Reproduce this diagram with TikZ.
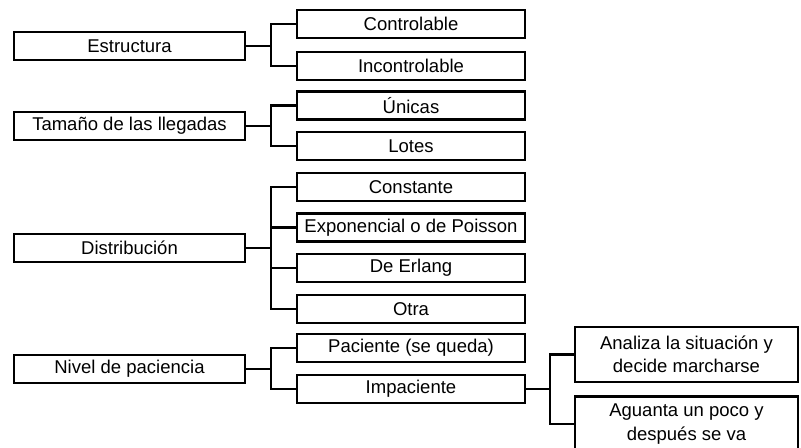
\documentclass[tikz,border=0pt]{standalone}
\usepackage{fontspec}
\setmainfont{Liberation Sans}
\usetikzlibrary{positioning}
\tikzset{
  mainbox/.style={draw=black,line width=1.8pt,minimum width=6.93cm,minimum height=0.84cm,inner sep=0pt,font=\fontsize{15.8}{17}\selectfont},
  subbox/.style={draw=black,line width=1.8pt,minimum width=6.84cm,minimum height=0.84cm,inner sep=0pt,font=\fontsize{15.8}{17}\selectfont},
  leafbox/.style={draw=black,line width=1.8pt,minimum width=6.69cm,minimum height=1.65cm,inner sep=0pt,align=center,font=\fontsize{15.8}{20}\selectfont},
  fork/.style={line width=1.8pt}
}
\begin{document}
\begin{tikzpicture}[x=0.03cm,y=-0.03cm]
\useasboundingbox (0,0) rectangle (801,448);
% Left boxes
\node[mainbox] (est) at (129.5,46) {Estructura};
\node[mainbox] (tam) at (129.5,126) {Tamaño de las llegadas};
\node[mainbox] (dis) at (129.5,248) {Distribución};
\node[mainbox] (niv) at (129.5,369) {Nivel de paciencia};
% Middle boxes
\node[subbox] (ctrl) at (411,24) {Controlable};
\node[subbox] (inc) at (411,66) {Incontrolable};
\node[subbox] (uni) at (411,105.5) {Únicas};
\node[subbox] (lot) at (411,146) {Lotes};
\node[subbox] (con) at (411,187) {Constante};
\node[subbox] (exp) at (411,227.5) {Exponencial o de Poisson};
\node[subbox] (erl) at (411,268) {De Erlang};
\node[subbox] (otr) at (411,309) {Otra};
\node[subbox] (pac) at (411,348) {Paciente (se queda)};
\node[subbox] (imp) at (411,389) {Impaciente};
% Right boxes
\node[leafbox] (ana) at (686.5,354.5) {Analiza la situación y\\decide marcharse};
\node[leafbox] (agu) at (686.5,424) {Aguanta un poco y\\después se va};
% Forks
\draw[fork] (est.east) -- ++(25,0) coordinate (f1);
\draw[fork] (f1) |- (ctrl.west);
\draw[fork] (f1) |- (inc.west);
\draw[fork] (tam.east) -- ++(25,0) coordinate (f2);
\draw[fork] (f2) |- (uni.west);
\draw[fork] (f2) |- (lot.west);
\draw[fork] (dis.east) -- ++(25,0) coordinate (f3);
\foreach \n in {con,exp,erl,otr}
  \draw[fork] (f3) |- (\n.west);
\draw[fork] (niv.east) -- ++(25,0) coordinate (f4);
\draw[fork] (f4) |- (pac.west);
\draw[fork] (f4) |- (imp.west);
\draw[fork] (imp.east) -- ++(24,0) coordinate (f5);
\draw[fork] (f5) |- (ana.west);
\draw[fork] (f5) |- (agu.west);
\end{tikzpicture}
\end{document}
